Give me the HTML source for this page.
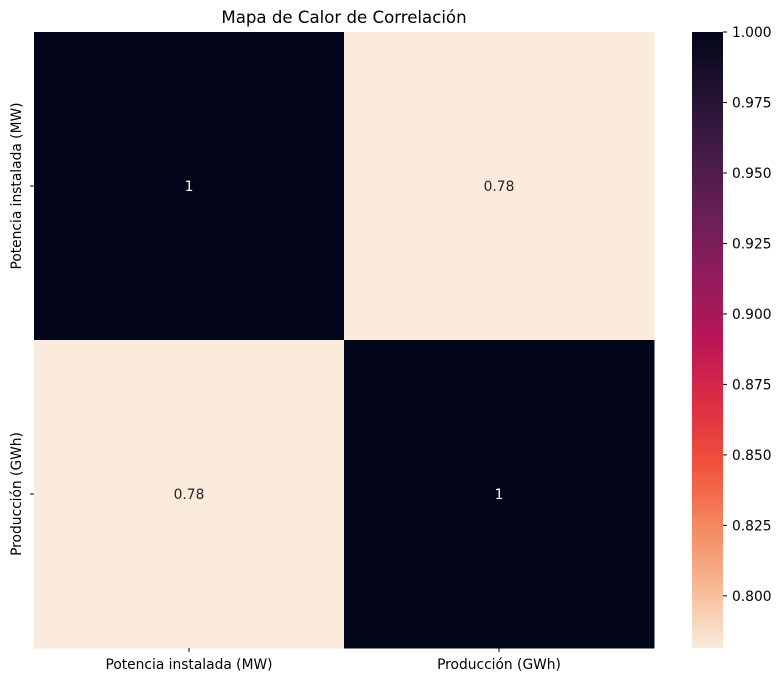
<!DOCTYPE html>
<html><head><meta charset="utf-8"><style>
body{margin:0;background:#fff;}
svg text{font-family:"DejaVu Sans","Liberation Sans",sans-serif;}
</style></head><body>
<svg id="c" width="782" height="682" xmlns="http://www.w3.org/2000/svg">
<defs>
<linearGradient id="rocket" x1="0" y1="1" x2="0" y2="0">
<stop offset="0" stop-color="#faebdd"/><stop offset="0.1" stop-color="#f6b893"/>
<stop offset="0.2" stop-color="#f4875e"/><stop offset="0.3" stop-color="#f0513a"/>
<stop offset="0.4" stop-color="#dd2c45"/><stop offset="0.5" stop-color="#b91657"/>
<stop offset="0.6" stop-color="#921c5b"/><stop offset="0.7" stop-color="#6a1f56"/>
<stop offset="0.8" stop-color="#451c47"/><stop offset="0.9" stop-color="#221331"/>
<stop offset="1" stop-color="#03051a"/>
</linearGradient>
</defs>
<text x="344" y="23" font-size="16.6" text-anchor="middle" fill="#000">Mapa de Calor de Correlación</text>
<g id="cells"></g>
<rect x="692" y="32" width="31" height="616" fill="url(#rocket)"/>
<g id="cbticks"></g>
</svg>
<script>
const labels = ["Potencia instalada (MW)", "Producción (GWh)"];
const values = [[1, 0.78], [0.78, 1]];
const cbTicks = [0.800, 0.825, 0.850, 0.875, 0.900, 0.925, 0.950, 0.975, 1.000];
const vmin = 0.7815, vmax = 1.0;

const ns = "http://www.w3.org/2000/svg";
const X0 = 34, Y0 = 32, W = 620, H = 616, CB0 = 32, CBH = 616;
const FS = 13.8;
const stops = ["#faebdd","#f6b893","#f4875e","#f0513a","#dd2c45","#b91657","#921c5b","#6a1f56","#451c47","#221331","#03051a"];
function hex(h){return [1,3,5].map(i=>parseInt(h.substr(i,2),16));}
function color(v){
  let t=Math.max(0,Math.min(1,(v-vmin)/(vmax-vmin)))*(stops.length-1);
  let i=Math.min(Math.floor(t),stops.length-2), f=t-i;
  let a=hex(stops[i]), b=hex(stops[i+1]);
  return "rgb("+a.map((c,k)=>Math.round(c+(b[k]-c)*f)).join(",")+")";
}
const n = labels.length, cw = W/n, ch = H/n;
const xs = i => X0 + i*cw, ys = j => Y0 + j*ch;
const cbY = v => CB0 + (vmax - v)/(vmax - vmin)*CBH;
const g = document.getElementById("cells");
function mk(tag, attrs, parent){const e=document.createElementNS(ns,tag);for(const k in attrs)e.setAttribute(k,attrs[k]);parent.appendChild(e);return e;}
for(let r=0;r<n;r++){for(let c=0;c<n;c++){
  const v=values[r][c];
  const rect=mk("rect",{x:xs(c),y:ys(r),width:cw+0.5,height:ch+0.5,fill:color(v)},g);
  
  
  const t=mk("text",{x:xs(c)+cw/2,y:ys(r)+ch/2+5,"font-size":FS,"text-anchor":"middle",fill:(v-vmin)/(vmax-vmin)>0.5?"#fff":"#262626"},g);
  t.textContent=String(+v.toFixed(2));
  
  
}}
for(let i=0;i<n;i++){
  const tx=mk("line",{x1:xs(i)+cw/2,x2:xs(i)+cw/2,y1:Y0+H,y2:Y0+H+4,stroke:"#000"},g);
  
  
  const lx=mk("text",{x:xs(i)+cw/2,y:Y0+H+21,"font-size":FS,"text-anchor":"middle"},g);
  lx.textContent=labels[i];
  
  
  const ty=mk("line",{x1:X0-4,x2:X0,y1:ys(i)+ch/2,y2:ys(i)+ch/2,stroke:"#000"},g);
  
  
  const cy=ys(i)+ch/2;
  const ly=mk("text",{x:21,y:cy,"font-size":FS,"text-anchor":"middle",transform:"rotate(-90 21 "+cy+")"},g);
  ly.textContent=labels[i];
  
  
}
const cb=document.getElementById("cbticks");
cbTicks.forEach(v=>{
  const y=cbY(v);
  const l=mk("line",{x1:723,x2:727,y1:y,y2:y,stroke:"#000"},cb);
  
  
  const t=mk("text",{x:732,y:y+5,"font-size":FS},cb);
  t.textContent=v.toFixed(3);
  
  
});
</script>
</body></html>
